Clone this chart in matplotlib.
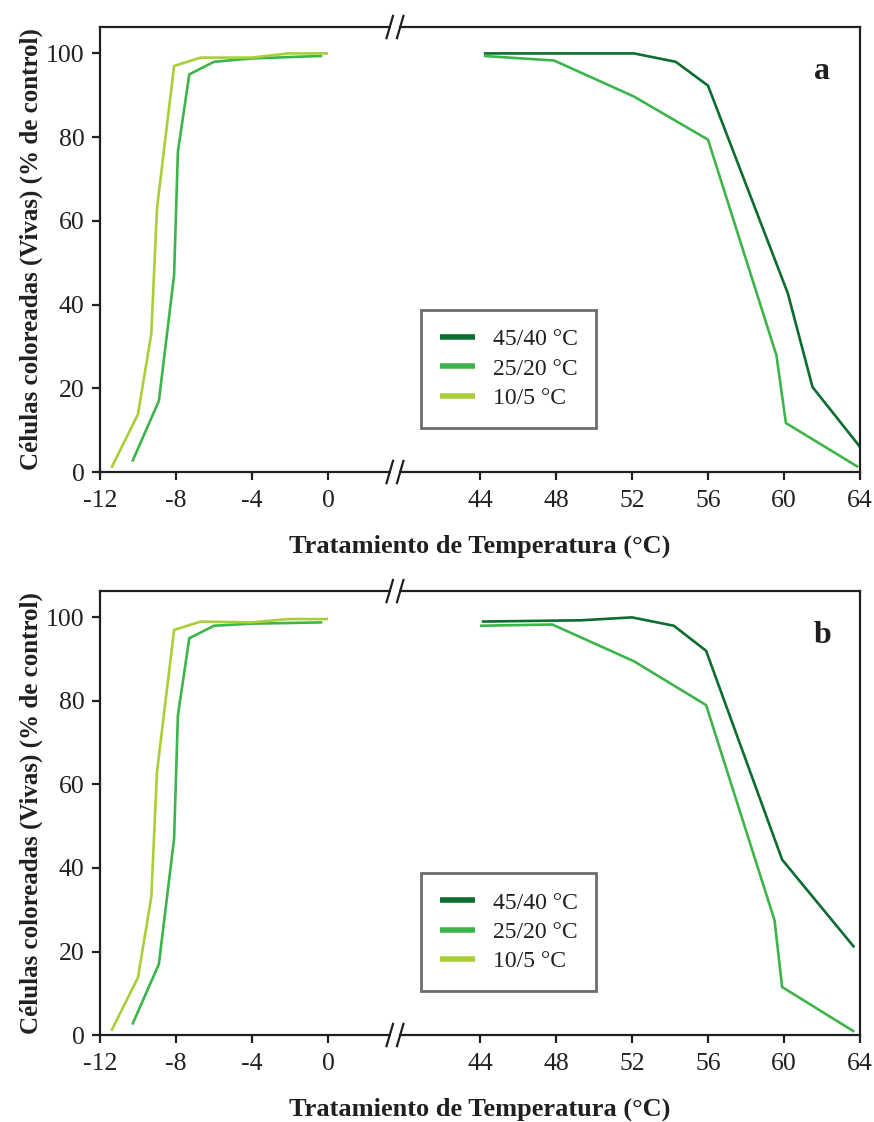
import matplotlib.pyplot as plt
import matplotlib.transforms as mtransforms

plt.rcParams['font.family'] = ['Liberation Serif', 'DejaVu Serif']

# Data
# x values on the cold side (left) and hot side (right) of the axis break
# Panel a
a_cold_10_x = [-11.4, -10.0, -9.3, -9.0, -8.1, -6.7, -4.0, -2.1, 0.0]
a_cold_10_y = [1.0, 13.8, 33.0, 63.0, 97.0, 99.0, 99.0, 100.0, 100.0]
a_cold_25_x = [-10.3, -8.9, -8.1, -7.9, -7.3, -6.0, -4.0, -0.3]
a_cold_25_y = [2.5, 17.0, 47.0, 76.5, 95.0, 98.0, 98.8, 99.4]
a_hot_45_x = [44.2, 52.1, 54.3, 56.0, 60.2, 61.5, 64.0]
a_hot_45_y = [100.0, 100.0, 98.0, 92.3, 42.7, 20.3, 6.0]
a_hot_25_x = [44.2, 47.9, 52.1, 56.0, 59.6, 60.1, 63.9]
a_hot_25_y = [99.4, 98.3, 89.7, 79.4, 27.9, 11.7, 1.2]

# Panel b
b_cold_10_x = [-11.4, -10.0, -9.3, -9.0, -8.1, -6.7, -4.0, -2.1, 0.0]
b_cold_10_y = [1.0, 13.8, 33.0, 63.0, 97.0, 99.0, 98.8, 99.6, 99.6]
b_cold_25_x = [-10.3, -8.9, -8.1, -7.9, -7.3, -6.0, -4.0, -0.3]
b_cold_25_y = [2.5, 17.0, 47.0, 76.5, 95.0, 98.0, 98.5, 98.8]
b_hot_45_x = [44.1, 49.3, 52.0, 54.2, 55.9, 59.9, 63.7]
b_hot_45_y = [99.0, 99.3, 100.0, 98.0, 92.0, 42.0, 21.0]
b_hot_25_x = [44.0, 47.8, 52.1, 55.9, 59.5, 59.9, 63.7]
b_hot_25_y = [98.0, 98.3, 89.5, 79.0, 27.5, 11.5, 0.8]

series_labels = ['45/40 °C', '25/20 °C', '10/5 °C']
tick_values = [-12, -8, -4, 0, 44, 48, 52, 56, 60, 64]
y_ticks = [0, 20, 40, 60, 80, 100]

DARK = '#0b6e2e'
MID = '#3db54a'
LIGHT = '#a8cf38'
INK = '#231f20'

# Hot-side temperatures are shifted left so that the axis break sits near x=4
SHIFT = 36


def sx(xs):
    return [x - SHIFT if x >= 20 else x for x in xs]


def Panel(ax, letter, c10x, c10y, c25x, c25y, h45x, h45y, h25x, h25y):
    lw = 1.9
    l45, = ax.plot(sx(h45x), h45y, color=DARK, lw=lw, solid_capstyle='butt')
    l25, = ax.plot(sx(c25x), c25y, color=MID, lw=lw, solid_capstyle='butt')
    ax.plot(sx(h25x), h25y, color=MID, lw=lw, solid_capstyle='butt')
    l10, = ax.plot(sx(c10x), c10y, color=LIGHT, lw=lw, solid_capstyle='butt')

    ax.set_xlim(-12, 28)
    ax.set_ylim(0, 106.3)
    ax.set_xticks(sx(tick_values))
    ax.set_xticklabels([str(t) for t in tick_values])
    ax.set_yticks(y_ticks)
    ax.tick_params(direction='out', length=6, width=1.6, color=INK,
                   labelsize=18.5, labelcolor=INK)
    ax.tick_params(axis='x', pad=7)
    ax.tick_params(axis='y', pad=5)
    for s in ax.spines.values():
        s.set_linewidth(1.6)
        s.set_color(INK)

    ax.set_xlabel('Tratamiento de Temperatura (°C)', fontsize=19,
                  fontweight='bold', color=INK, labelpad=16)
    ax.set_ylabel('Células coloreadas (Vivas) (% de control)', fontsize=18,
                  fontweight='bold', color=INK, labelpad=2.5)

    # axis break marks on top and bottom spines
    trans = mtransforms.blended_transform_factory(ax.transData, ax.transAxes)
    for yb in (0.0, 1.0):
        ax.fill_between([3.3, 3.75], yb - 0.006, yb + 0.006, color='white',
                        transform=trans, clip_on=False, zorder=5, lw=0)
        for xb in (3.25, 3.8):
            ax.plot([xb - 0.17, xb + 0.17], [yb - 0.025, yb + 0.025],
                    color=INK, lw=1.6, transform=trans, clip_on=False,
                    zorder=6)

    ax.text(0.95, 0.9, letter, transform=ax.transAxes, fontsize=23,
            fontweight='bold', color=INK, ha='center', va='center')

    leg = ax.legend([l45, l25, l10], series_labels, loc='lower left',
                    bbox_to_anchor=(0.422, 0.099), borderaxespad=0,
                    fontsize=17, fancybox=False, framealpha=1,
                    edgecolor='#6d6d6d', handlelength=1.5,
                    handletextpad=0.75, labelspacing=0.33, borderpad=0.8)
    leg.get_frame().set_linewidth(2)
    for h in leg.get_lines():
        h.set_linewidth(4)
    for t in leg.get_texts():
        t.set_color(INK)


fig = plt.figure(figsize=(8.74, 11.22), dpi=100)
ax_a = fig.add_axes([0.1144, 0.5793, 0.8696, 0.3966])
ax_b = fig.add_axes([0.1144, 0.0775, 0.8696, 0.3957])

Panel(ax_a, 'a', a_cold_10_x, a_cold_10_y, a_cold_25_x, a_cold_25_y,
      a_hot_45_x, a_hot_45_y, a_hot_25_x, a_hot_25_y)
Panel(ax_b, 'b', b_cold_10_x, b_cold_10_y, b_cold_25_x, b_cold_25_y,
      b_hot_45_x, b_hot_45_y, b_hot_25_x, b_hot_25_y)

fig.savefig('out.png', dpi=100)
